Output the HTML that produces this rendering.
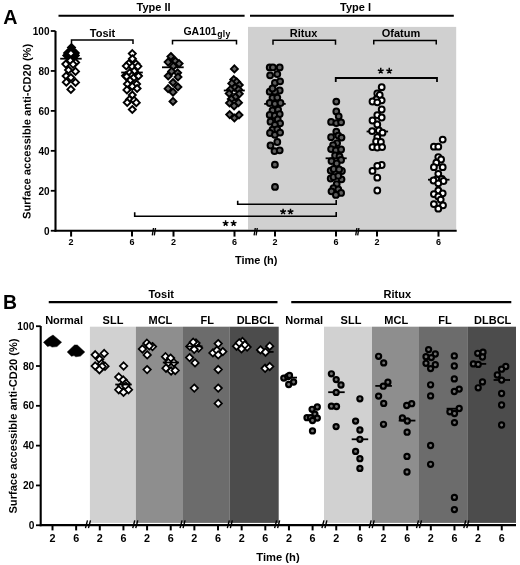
<!DOCTYPE html>
<html><head><meta charset="utf-8"><style>
html,body{margin:0;padding:0;background:#fff;}
svg{display:block;will-change:transform;font-family:"Liberation Sans", sans-serif;}
</style></head><body>
<svg width="520" height="565" viewBox="0 0 520 565">
<rect width="520" height="565" fill="#fff"/>
<rect x="248" y="26.9" width="208.2" height="202.7" fill="#d0d0d0"/>
<text x="10.4" y="23.8" font-size="19.7" text-anchor="middle" font-weight="bold" >A</text>
<line x1="58.5" y1="15.8" x2="244.6" y2="15.8" stroke="#000" stroke-width="2"/>
<line x1="250" y1="15.8" x2="453.8" y2="15.8" stroke="#000" stroke-width="2"/>
<text x="153.5" y="11.2" font-size="11" text-anchor="middle" font-weight="bold" >Type II</text>
<text x="355.5" y="11.1" font-size="11" text-anchor="middle" font-weight="bold" >Type I</text>
<path d="M71.5 44V40H133V44" fill="none" stroke="#000" stroke-width="1.5"/>
<path d="M172.5 44.4V40.4H236.5V44.4" fill="none" stroke="#000" stroke-width="1.5"/>
<path d="M273 44.800000000000004V40.2H335.5V44.800000000000004" fill="none" stroke="#000" stroke-width="1.5"/>
<path d="M373.75 44.5V40.5H436.25V44.5" fill="none" stroke="#000" stroke-width="1.5"/>
<text x="102.5" y="36.5" font-size="11" text-anchor="middle" font-weight="bold" >Tosit</text>
<text x="183.4" y="34.6" font-size="10.5" text-anchor="start" font-weight="bold" >GA101<tspan font-size="8.6" dx="0.5" dy="2.6" letter-spacing="0.3">gly</tspan></text>
<text x="303.5" y="37" font-size="11" text-anchor="middle" font-weight="bold" >Ritux</text>
<text x="401" y="37" font-size="11" text-anchor="middle" font-weight="bold" >Ofatum</text>
<line x1="55.5" y1="31" x2="55.5" y2="231.6" stroke="#000" stroke-width="2.1"/>
<line x1="54.5" y1="230.7" x2="456.7" y2="230.7" stroke="#000" stroke-width="2.1"/>
<line x1="50.8" y1="230.75" x2="55.5" y2="230.75" stroke="#000" stroke-width="1.8"/>
<text x="49.5" y="234.95" font-size="10" text-anchor="end" font-weight="bold" >0</text>
<line x1="50.8" y1="190.8" x2="55.5" y2="190.8" stroke="#000" stroke-width="1.8"/>
<text x="49.5" y="195.0" font-size="10" text-anchor="end" font-weight="bold" >20</text>
<line x1="50.8" y1="150.85" x2="55.5" y2="150.85" stroke="#000" stroke-width="1.8"/>
<text x="49.5" y="155.04999999999998" font-size="10" text-anchor="end" font-weight="bold" >40</text>
<line x1="50.8" y1="110.89999999999999" x2="55.5" y2="110.89999999999999" stroke="#000" stroke-width="1.8"/>
<text x="49.5" y="115.1" font-size="10" text-anchor="end" font-weight="bold" >60</text>
<line x1="50.8" y1="70.94999999999999" x2="55.5" y2="70.94999999999999" stroke="#000" stroke-width="1.8"/>
<text x="49.5" y="75.14999999999999" font-size="10" text-anchor="end" font-weight="bold" >80</text>
<line x1="50.8" y1="31.0" x2="55.5" y2="31.0" stroke="#000" stroke-width="1.8"/>
<text x="49.5" y="35.2" font-size="10" text-anchor="end" font-weight="bold" >100</text>
<line x1="71.1" y1="230.7" x2="71.1" y2="236.6" stroke="#000" stroke-width="2"/>
<text x="71.1" y="244.7" font-size="9" text-anchor="middle" font-weight="bold" >2</text>
<line x1="132" y1="230.7" x2="132" y2="236.6" stroke="#000" stroke-width="2"/>
<text x="132" y="244.7" font-size="9" text-anchor="middle" font-weight="bold" >6</text>
<line x1="173.5" y1="230.7" x2="173.5" y2="236.6" stroke="#000" stroke-width="2"/>
<text x="173.5" y="244.7" font-size="9" text-anchor="middle" font-weight="bold" >2</text>
<line x1="234.5" y1="230.7" x2="234.5" y2="236.6" stroke="#000" stroke-width="2"/>
<text x="234.5" y="244.7" font-size="9" text-anchor="middle" font-weight="bold" >6</text>
<line x1="275" y1="230.7" x2="275" y2="236.6" stroke="#000" stroke-width="2"/>
<text x="275" y="244.7" font-size="9" text-anchor="middle" font-weight="bold" >2</text>
<line x1="336" y1="230.7" x2="336" y2="236.6" stroke="#000" stroke-width="2"/>
<text x="336" y="244.7" font-size="9" text-anchor="middle" font-weight="bold" >6</text>
<line x1="377" y1="230.7" x2="377" y2="236.6" stroke="#000" stroke-width="2"/>
<text x="377" y="244.7" font-size="9" text-anchor="middle" font-weight="bold" >2</text>
<line x1="438.5" y1="230.7" x2="438.5" y2="236.6" stroke="#000" stroke-width="2"/>
<text x="438.5" y="244.7" font-size="9" text-anchor="middle" font-weight="bold" >6</text>
<line x1="153.50" y1="228.00" x2="152.30" y2="235.40" stroke="#000" stroke-width="1.35"/>
<line x1="155.50" y1="228.00" x2="154.30" y2="235.40" stroke="#000" stroke-width="1.35"/>
<line x1="255.30" y1="228.00" x2="254.10" y2="235.40" stroke="#000" stroke-width="1.35"/>
<line x1="257.30" y1="228.00" x2="256.10" y2="235.40" stroke="#000" stroke-width="1.35"/>
<line x1="356.90" y1="228.00" x2="355.70" y2="235.40" stroke="#000" stroke-width="1.35"/>
<line x1="358.90" y1="228.00" x2="357.70" y2="235.40" stroke="#000" stroke-width="1.35"/>
<text x="256.2" y="264.4" font-size="11" text-anchor="middle" font-weight="bold" >Time (h)</text>
<text transform="translate(30.6,131.4) rotate(-89.9)" font-size="11.1" text-anchor="middle" font-weight="bold">Surface accessible anti-CD20 (%)</text>
<path d="M335.75 82.0V78.0H437V82.0" fill="none" stroke="#000" stroke-width="1.8"/>
<path d="M134.7 212.3V216.2H336.2V212.1" fill="none" stroke="#000" stroke-width="1.6"/>
<path d="M237.7 200.8V204.3H336.2V200" fill="none" stroke="#000" stroke-width="1.6"/>
<path d="M380.75 70.90L380.75 67.85M380.75 70.90L383.65 69.96M380.75 70.90L382.54 73.37M380.75 70.90L378.96 73.37M380.75 70.90L377.85 69.96" stroke="#000" stroke-width="1.45" stroke-linecap="butt"/>
<path d="M389.25 70.90L389.25 67.85M389.25 70.90L392.15 69.96M389.25 70.90L391.04 73.37M389.25 70.90L387.46 73.37M389.25 70.90L386.35 69.96" stroke="#000" stroke-width="1.45" stroke-linecap="butt"/>
<path d="M225.60 223.30L225.60 220.25M225.60 223.30L228.50 222.36M225.60 223.30L227.39 225.77M225.60 223.30L223.81 225.77M225.60 223.30L222.70 222.36" stroke="#000" stroke-width="1.45" stroke-linecap="butt"/>
<path d="M233.60 223.30L233.60 220.25M233.60 223.30L236.50 222.36M233.60 223.30L235.39 225.77M233.60 223.30L231.81 225.77M233.60 223.30L230.70 222.36" stroke="#000" stroke-width="1.45" stroke-linecap="butt"/>
<path d="M283.10 211.70L283.10 208.65M283.10 211.70L286.00 210.76M283.10 211.70L284.89 214.17M283.10 211.70L281.31 214.17M283.10 211.70L280.20 210.76" stroke="#000" stroke-width="1.45" stroke-linecap="butt"/>
<path d="M290.50 211.70L290.50 208.65M290.50 211.70L293.40 210.76M290.50 211.70L292.29 214.17M290.50 211.70L288.71 214.17M290.50 211.70L287.60 210.76" stroke="#000" stroke-width="1.45" stroke-linecap="butt"/>
<rect x="89.9" y="326.7" width="46.0" height="196.2" fill="#d1d1d1"/>
<rect x="135.9" y="326.7" width="47.099999999999994" height="196.2" fill="#8e8e8e"/>
<rect x="183" y="326.7" width="46.400000000000006" height="196.2" fill="#6c6c6c"/>
<rect x="229.4" y="326.7" width="49.29999999999998" height="196.2" fill="#4c4c4c"/>
<rect x="324.0" y="326.7" width="48.0" height="196.2" fill="#d1d1d1"/>
<rect x="372" y="326.7" width="47.0" height="196.2" fill="#8e8e8e"/>
<rect x="419.0" y="326.7" width="48.89999999999998" height="196.2" fill="#6c6c6c"/>
<rect x="467.9" y="326.7" width="48.10000000000002" height="196.2" fill="#4c4c4c"/>
<text x="10.0" y="308.8" font-size="19.4" text-anchor="middle" font-weight="bold" >B</text>
<line x1="48.75" y1="302.2" x2="277.5" y2="302.2" stroke="#000" stroke-width="2.2"/>
<line x1="291.25" y1="302.2" x2="511.3" y2="302.2" stroke="#000" stroke-width="2.2"/>
<text x="161.2" y="298.2" font-size="11" text-anchor="middle" font-weight="bold" >Tosit</text>
<text x="397.3" y="298.2" font-size="11" text-anchor="middle" font-weight="bold" >Ritux</text>
<text x="64.1" y="323.6" font-size="11" text-anchor="middle" font-weight="bold" >Normal</text>
<text x="113" y="323.6" font-size="11" text-anchor="middle" font-weight="bold" >SLL</text>
<text x="160.4" y="323.6" font-size="11" text-anchor="middle" font-weight="bold" >MCL</text>
<text x="207.3" y="323.6" font-size="11" text-anchor="middle" font-weight="bold" >FL</text>
<text x="255.3" y="323.6" font-size="11" text-anchor="middle" font-weight="bold" >DLBCL</text>
<text x="304.2" y="323.6" font-size="11" text-anchor="middle" font-weight="bold" >Normal</text>
<text x="351" y="323.6" font-size="11" text-anchor="middle" font-weight="bold" >SLL</text>
<text x="396.2" y="323.6" font-size="11" text-anchor="middle" font-weight="bold" >MCL</text>
<text x="444.9" y="323.6" font-size="11" text-anchor="middle" font-weight="bold" >FL</text>
<text x="492.7" y="323.6" font-size="11" text-anchor="middle" font-weight="bold" >DLBCL</text>
<line x1="40.7" y1="326" x2="40.7" y2="526.2" stroke="#000" stroke-width="2.1"/>
<line x1="39.7" y1="525.1" x2="516" y2="525.1" stroke="#000" stroke-width="2.1"/>
<line x1="36" y1="525.25" x2="40.7" y2="525.25" stroke="#000" stroke-width="1.8"/>
<text x="34.3" y="528.85" font-size="10.2" text-anchor="end" font-weight="bold" >0</text>
<line x1="36" y1="485.44" x2="40.7" y2="485.44" stroke="#000" stroke-width="1.8"/>
<text x="34.3" y="489.04" font-size="10.2" text-anchor="end" font-weight="bold" >20</text>
<line x1="36" y1="445.63" x2="40.7" y2="445.63" stroke="#000" stroke-width="1.8"/>
<text x="34.3" y="449.23" font-size="10.2" text-anchor="end" font-weight="bold" >40</text>
<line x1="36" y1="405.82" x2="40.7" y2="405.82" stroke="#000" stroke-width="1.8"/>
<text x="34.3" y="409.42" font-size="10.2" text-anchor="end" font-weight="bold" >60</text>
<line x1="36" y1="366.01" x2="40.7" y2="366.01" stroke="#000" stroke-width="1.8"/>
<text x="34.3" y="369.61" font-size="10.2" text-anchor="end" font-weight="bold" >80</text>
<line x1="36" y1="326.20000000000005" x2="40.7" y2="326.20000000000005" stroke="#000" stroke-width="1.8"/>
<text x="34.3" y="329.80000000000007" font-size="10.2" text-anchor="end" font-weight="bold" >100</text>
<line x1="52.5" y1="525.1" x2="52.5" y2="530.4" stroke="#000" stroke-width="2"/>
<text x="52.5" y="542.1" font-size="10.8" text-anchor="middle" font-weight="bold" >2</text>
<line x1="76.145" y1="525.1" x2="76.145" y2="530.4" stroke="#000" stroke-width="2"/>
<text x="76.145" y="542.1" font-size="10.8" text-anchor="middle" font-weight="bold" >6</text>
<line x1="99.78999999999999" y1="525.1" x2="99.78999999999999" y2="530.4" stroke="#000" stroke-width="2"/>
<text x="99.78999999999999" y="542.1" font-size="10.8" text-anchor="middle" font-weight="bold" >2</text>
<line x1="123.435" y1="525.1" x2="123.435" y2="530.4" stroke="#000" stroke-width="2"/>
<text x="123.435" y="542.1" font-size="10.8" text-anchor="middle" font-weight="bold" >6</text>
<line x1="147.07999999999998" y1="525.1" x2="147.07999999999998" y2="530.4" stroke="#000" stroke-width="2"/>
<text x="147.07999999999998" y="542.1" font-size="10.8" text-anchor="middle" font-weight="bold" >2</text>
<line x1="170.725" y1="525.1" x2="170.725" y2="530.4" stroke="#000" stroke-width="2"/>
<text x="170.725" y="542.1" font-size="10.8" text-anchor="middle" font-weight="bold" >6</text>
<line x1="194.37" y1="525.1" x2="194.37" y2="530.4" stroke="#000" stroke-width="2"/>
<text x="194.37" y="542.1" font-size="10.8" text-anchor="middle" font-weight="bold" >2</text>
<line x1="218.015" y1="525.1" x2="218.015" y2="530.4" stroke="#000" stroke-width="2"/>
<text x="218.015" y="542.1" font-size="10.8" text-anchor="middle" font-weight="bold" >6</text>
<line x1="241.66" y1="525.1" x2="241.66" y2="530.4" stroke="#000" stroke-width="2"/>
<text x="241.66" y="542.1" font-size="10.8" text-anchor="middle" font-weight="bold" >2</text>
<line x1="265.305" y1="525.1" x2="265.305" y2="530.4" stroke="#000" stroke-width="2"/>
<text x="265.305" y="542.1" font-size="10.8" text-anchor="middle" font-weight="bold" >6</text>
<line x1="288.95" y1="525.1" x2="288.95" y2="530.4" stroke="#000" stroke-width="2"/>
<text x="288.95" y="542.1" font-size="10.8" text-anchor="middle" font-weight="bold" >2</text>
<line x1="312.59499999999997" y1="525.1" x2="312.59499999999997" y2="530.4" stroke="#000" stroke-width="2"/>
<text x="312.59499999999997" y="542.1" font-size="10.8" text-anchor="middle" font-weight="bold" >6</text>
<line x1="336.24" y1="525.1" x2="336.24" y2="530.4" stroke="#000" stroke-width="2"/>
<text x="336.24" y="542.1" font-size="10.8" text-anchor="middle" font-weight="bold" >2</text>
<line x1="359.885" y1="525.1" x2="359.885" y2="530.4" stroke="#000" stroke-width="2"/>
<text x="359.885" y="542.1" font-size="10.8" text-anchor="middle" font-weight="bold" >6</text>
<line x1="383.53" y1="525.1" x2="383.53" y2="530.4" stroke="#000" stroke-width="2"/>
<text x="383.53" y="542.1" font-size="10.8" text-anchor="middle" font-weight="bold" >2</text>
<line x1="407.175" y1="525.1" x2="407.175" y2="530.4" stroke="#000" stroke-width="2"/>
<text x="407.175" y="542.1" font-size="10.8" text-anchor="middle" font-weight="bold" >6</text>
<line x1="430.82" y1="525.1" x2="430.82" y2="530.4" stroke="#000" stroke-width="2"/>
<text x="430.82" y="542.1" font-size="10.8" text-anchor="middle" font-weight="bold" >2</text>
<line x1="454.465" y1="525.1" x2="454.465" y2="530.4" stroke="#000" stroke-width="2"/>
<text x="454.465" y="542.1" font-size="10.8" text-anchor="middle" font-weight="bold" >6</text>
<line x1="478.11" y1="525.1" x2="478.11" y2="530.4" stroke="#000" stroke-width="2"/>
<text x="478.11" y="542.1" font-size="10.8" text-anchor="middle" font-weight="bold" >2</text>
<line x1="501.755" y1="525.1" x2="501.755" y2="530.4" stroke="#000" stroke-width="2"/>
<text x="501.755" y="542.1" font-size="10.8" text-anchor="middle" font-weight="bold" >6</text>
<line x1="87.47" y1="520.30" x2="85.47" y2="528.10" stroke="#000" stroke-width="1.4"/>
<line x1="90.47" y1="520.30" x2="88.47" y2="528.10" stroke="#000" stroke-width="1.4"/>
<line x1="134.76" y1="520.30" x2="132.76" y2="528.10" stroke="#000" stroke-width="1.4"/>
<line x1="137.76" y1="520.30" x2="135.76" y2="528.10" stroke="#000" stroke-width="1.4"/>
<line x1="182.05" y1="520.30" x2="180.05" y2="528.10" stroke="#000" stroke-width="1.4"/>
<line x1="185.05" y1="520.30" x2="183.05" y2="528.10" stroke="#000" stroke-width="1.4"/>
<line x1="229.34" y1="520.30" x2="227.34" y2="528.10" stroke="#000" stroke-width="1.4"/>
<line x1="232.34" y1="520.30" x2="230.34" y2="528.10" stroke="#000" stroke-width="1.4"/>
<line x1="276.63" y1="520.30" x2="274.63" y2="528.10" stroke="#000" stroke-width="1.4"/>
<line x1="279.63" y1="520.30" x2="277.63" y2="528.10" stroke="#000" stroke-width="1.4"/>
<line x1="323.92" y1="520.30" x2="321.92" y2="528.10" stroke="#000" stroke-width="1.4"/>
<line x1="326.92" y1="520.30" x2="324.92" y2="528.10" stroke="#000" stroke-width="1.4"/>
<line x1="371.21" y1="520.30" x2="369.21" y2="528.10" stroke="#000" stroke-width="1.4"/>
<line x1="374.21" y1="520.30" x2="372.21" y2="528.10" stroke="#000" stroke-width="1.4"/>
<line x1="418.50" y1="520.30" x2="416.50" y2="528.10" stroke="#000" stroke-width="1.4"/>
<line x1="421.50" y1="520.30" x2="419.50" y2="528.10" stroke="#000" stroke-width="1.4"/>
<line x1="465.79" y1="520.30" x2="463.79" y2="528.10" stroke="#000" stroke-width="1.4"/>
<line x1="468.79" y1="520.30" x2="466.79" y2="528.10" stroke="#000" stroke-width="1.4"/>
<text x="278" y="561" font-size="11.2" text-anchor="middle" font-weight="bold" >Time (h)</text>
<text transform="translate(16.8,426) rotate(-89.9)" font-size="11.1" text-anchor="middle" font-weight="bold">Surface accessible anti-CD20 (%)</text>
<line x1="60.2" y1="58.7" x2="81.7" y2="58.7" stroke="#000" stroke-width="1.8"/>
<line x1="121.2" y1="72.5" x2="142.8" y2="72.5" stroke="#000" stroke-width="1.8"/>
<line x1="162" y1="67.3" x2="183.7" y2="67.3" stroke="#000" stroke-width="1.8"/>
<line x1="223.8" y1="90.5" x2="244.8" y2="90.5" stroke="#000" stroke-width="1.8"/>
<line x1="264.2" y1="103.9" x2="285.7" y2="103.9" stroke="#000" stroke-width="1.8"/>
<line x1="325.6" y1="158.3" x2="346.7" y2="158.3" stroke="#000" stroke-width="1.8"/>
<line x1="366.6" y1="131.5" x2="388.1" y2="131.5" stroke="#000" stroke-width="1.8"/>
<line x1="428" y1="179.7" x2="449.5" y2="179.7" stroke="#000" stroke-width="1.8"/>
<path d="M71.50 44.10L75.00 47.60L71.50 51.10L68.00 47.60Z" fill="#000" stroke="#000" stroke-width="1.9"/>
<path d="M67.60 49.50L71.10 53.00L67.60 56.50L64.10 53.00Z" fill="#000" stroke="#000" stroke-width="1.9"/>
<path d="M75.30 49.50L78.80 53.00L75.30 56.50L71.80 53.00Z" fill="#000" stroke="#000" stroke-width="1.9"/>
<path d="M66.80 52.00L70.30 55.50L66.80 59.00L63.30 55.50Z" fill="#000" stroke="#000" stroke-width="1.9"/>
<path d="M75.30 52.00L78.80 55.50L75.30 59.00L71.80 55.50Z" fill="#000" stroke="#000" stroke-width="1.9"/>
<path d="M69.20 53.30L72.70 56.80L69.20 60.30L65.70 56.80Z" fill="#000" stroke="#000" stroke-width="1.9"/>
<path d="M73.20 53.30L76.70 56.80L73.20 60.30L69.70 56.80Z" fill="#000" stroke="#000" stroke-width="1.9"/>
<path d="M71.50 47.00L75.00 50.50L71.50 54.00L68.00 50.50Z" fill="#000" stroke="#000" stroke-width="1.9"/>
<path d="M71.80 54.70L75.30 58.20L71.80 61.70L68.30 58.20Z" fill="#000" stroke="#000" stroke-width="1.9"/>
<path d="M70.90 49.80L74.40 53.30L70.90 56.80L67.40 53.30Z" fill="#ffffff" stroke="#000" stroke-width="1.9"/>
<path d="M70.40 57.10L73.90 60.60L70.40 64.10L66.90 60.60Z" fill="#ffffff" stroke="#000" stroke-width="1.9"/>
<path d="M75.60 59.00L79.10 62.50L75.60 66.00L72.10 62.50Z" fill="#ffffff" stroke="#000" stroke-width="1.9"/>
<path d="M65.80 60.60L69.30 64.10L65.80 67.60L62.30 64.10Z" fill="#ffffff" stroke="#000" stroke-width="1.9"/>
<path d="M73.10 60.80L76.60 64.30L73.10 67.80L69.60 64.30Z" fill="#ffffff" stroke="#000" stroke-width="1.9"/>
<path d="M68.50 66.50L72.00 70.00L68.50 73.50L65.00 70.00Z" fill="#ffffff" stroke="#000" stroke-width="1.9"/>
<path d="M75.50 67.90L79.00 71.40L75.50 74.90L72.00 71.40Z" fill="#ffffff" stroke="#000" stroke-width="1.9"/>
<path d="M66.10 72.50L69.60 76.00L66.10 79.50L62.60 76.00Z" fill="#ffffff" stroke="#000" stroke-width="1.9"/>
<path d="M70.90 74.10L74.40 77.60L70.90 81.10L67.40 77.60Z" fill="#ffffff" stroke="#000" stroke-width="1.9"/>
<path d="M66.30 78.70L69.80 82.20L66.30 85.70L62.80 82.20Z" fill="#ffffff" stroke="#000" stroke-width="1.9"/>
<path d="M75.50 78.90L79.00 82.40L75.50 85.90L72.00 82.40Z" fill="#ffffff" stroke="#000" stroke-width="1.9"/>
<path d="M70.90 85.90L74.40 89.40L70.90 92.90L67.40 89.40Z" fill="#ffffff" stroke="#000" stroke-width="1.9"/>
<path d="M132.30 50.10L135.80 53.60L132.30 57.10L128.80 53.60Z" fill="#ffffff" stroke="#000" stroke-width="1.9"/>
<path d="M132.40 55.30L135.90 58.80L132.40 62.30L128.90 58.80Z" fill="#ffffff" stroke="#000" stroke-width="1.9"/>
<path d="M128.80 60.10L132.30 63.60L128.80 67.10L125.30 63.60Z" fill="#ffffff" stroke="#000" stroke-width="1.9"/>
<path d="M136.00 60.30L139.50 63.80L136.00 67.30L132.50 63.80Z" fill="#ffffff" stroke="#000" stroke-width="1.9"/>
<path d="M126.30 62.50L129.80 66.00L126.30 69.50L122.80 66.00Z" fill="#ffffff" stroke="#000" stroke-width="1.9"/>
<path d="M132.30 63.10L135.80 66.60L132.30 70.10L128.80 66.60Z" fill="#ffffff" stroke="#000" stroke-width="1.9"/>
<path d="M137.90 62.80L141.40 66.30L137.90 69.80L134.40 66.30Z" fill="#ffffff" stroke="#000" stroke-width="1.9"/>
<path d="M134.20 67.70L137.70 71.20L134.20 74.70L130.70 71.20Z" fill="#ffffff" stroke="#000" stroke-width="1.9"/>
<path d="M129.60 69.30L133.10 72.80L129.60 76.30L126.10 72.80Z" fill="#ffffff" stroke="#000" stroke-width="1.9"/>
<path d="M125.50 72.30L129.00 75.80L125.50 79.30L122.00 75.80Z" fill="#ffffff" stroke="#000" stroke-width="1.9"/>
<path d="M132.00 72.00L135.50 75.50L132.00 79.00L128.50 75.50Z" fill="#ffffff" stroke="#000" stroke-width="1.9"/>
<path d="M137.90 72.00L141.40 75.50L137.90 79.00L134.40 75.50Z" fill="#ffffff" stroke="#000" stroke-width="1.9"/>
<path d="M126.60 73.00L130.10 76.50L126.60 80.00L123.10 76.50Z" fill="#ffffff" stroke="#000" stroke-width="1.9"/>
<path d="M133.60 74.30L137.10 77.80L133.60 81.30L130.10 77.80Z" fill="#ffffff" stroke="#000" stroke-width="1.9"/>
<path d="M138.50 72.50L142.00 76.00L138.50 79.50L135.00 76.00Z" fill="#ffffff" stroke="#000" stroke-width="1.9"/>
<path d="M130.00 77.00L133.50 80.50L130.00 84.00L126.50 80.50Z" fill="#ffffff" stroke="#000" stroke-width="1.9"/>
<path d="M127.40 80.50L130.90 84.00L127.40 87.50L123.90 84.00Z" fill="#ffffff" stroke="#000" stroke-width="1.9"/>
<path d="M136.60 80.50L140.10 84.00L136.60 87.50L133.10 84.00Z" fill="#ffffff" stroke="#000" stroke-width="1.9"/>
<path d="M132.30 82.90L135.80 86.40L132.30 89.90L128.80 86.40Z" fill="#ffffff" stroke="#000" stroke-width="1.9"/>
<path d="M126.90 86.40L130.40 89.90L126.90 93.40L123.40 89.90Z" fill="#ffffff" stroke="#000" stroke-width="1.9"/>
<path d="M137.10 85.00L140.60 88.50L137.10 92.00L133.60 88.50Z" fill="#ffffff" stroke="#000" stroke-width="1.9"/>
<path d="M132.30 91.50L135.80 95.00L132.30 98.50L128.80 95.00Z" fill="#ffffff" stroke="#000" stroke-width="1.9"/>
<path d="M129.50 96.00L133.00 99.50L129.50 103.00L126.00 99.50Z" fill="#ffffff" stroke="#000" stroke-width="1.9"/>
<path d="M134.20 96.90L137.70 100.40L134.20 103.90L130.70 100.40Z" fill="#ffffff" stroke="#000" stroke-width="1.9"/>
<path d="M127.20 99.00L130.70 102.50L127.20 106.00L123.70 102.50Z" fill="#ffffff" stroke="#000" stroke-width="1.9"/>
<path d="M136.30 99.20L139.80 102.70L136.30 106.20L132.80 102.70Z" fill="#ffffff" stroke="#000" stroke-width="1.9"/>
<path d="M132.30 106.00L135.80 109.50L132.30 113.00L128.80 109.50Z" fill="#ffffff" stroke="#000" stroke-width="1.9"/>
<path d="M170.90 53.00L174.40 56.50L170.90 60.00L167.40 56.50Z" fill="#626262" stroke="#000" stroke-width="1.9"/>
<path d="M168.10 58.60L171.60 62.10L168.10 65.60L164.60 62.10Z" fill="#626262" stroke="#000" stroke-width="1.9"/>
<path d="M175.30 57.50L178.80 61.00L175.30 64.50L171.80 61.00Z" fill="#626262" stroke="#000" stroke-width="1.9"/>
<path d="M179.10 60.10L182.60 63.60L179.10 67.10L175.60 63.60Z" fill="#626262" stroke="#000" stroke-width="1.9"/>
<path d="M173.30 62.70L176.80 66.20L173.30 69.70L169.80 66.20Z" fill="#626262" stroke="#000" stroke-width="1.9"/>
<path d="M171.60 67.90L175.10 71.40L171.60 74.90L168.10 71.40Z" fill="#626262" stroke="#000" stroke-width="1.9"/>
<path d="M177.60 69.30L181.10 72.80L177.60 76.30L174.10 72.80Z" fill="#626262" stroke="#000" stroke-width="1.9"/>
<path d="M168.20 72.50L171.70 76.00L168.20 79.50L164.70 76.00Z" fill="#626262" stroke="#000" stroke-width="1.9"/>
<path d="M178.00 73.50L181.50 77.00L178.00 80.50L174.50 77.00Z" fill="#626262" stroke="#000" stroke-width="1.9"/>
<path d="M173.00 79.00L176.50 82.50L173.00 86.00L169.50 82.50Z" fill="#626262" stroke="#000" stroke-width="1.9"/>
<path d="M177.90 83.50L181.40 87.00L177.90 90.50L174.40 87.00Z" fill="#626262" stroke="#000" stroke-width="1.9"/>
<path d="M168.10 85.20L171.60 88.70L168.10 92.20L164.60 88.70Z" fill="#626262" stroke="#000" stroke-width="1.9"/>
<path d="M173.00 88.70L176.50 92.20L173.00 95.70L169.50 92.20Z" fill="#626262" stroke="#000" stroke-width="1.9"/>
<path d="M173.00 97.90L176.50 101.40L173.00 104.90L169.50 101.40Z" fill="#626262" stroke="#000" stroke-width="1.9"/>
<path d="M234.40 65.40L237.90 68.90L234.40 72.40L230.90 68.90Z" fill="#626262" stroke="#000" stroke-width="1.9"/>
<path d="M233.80 76.10L237.30 79.60L233.80 83.10L230.30 79.60Z" fill="#626262" stroke="#000" stroke-width="1.9"/>
<path d="M236.70 78.40L240.20 81.90L236.70 85.40L233.20 81.90Z" fill="#626262" stroke="#000" stroke-width="1.9"/>
<path d="M231.80 79.90L235.30 83.40L231.80 86.90L228.30 83.40Z" fill="#626262" stroke="#000" stroke-width="1.9"/>
<path d="M239.30 81.50L242.80 85.00L239.30 88.50L235.80 85.00Z" fill="#626262" stroke="#000" stroke-width="1.9"/>
<path d="M235.00 84.00L238.50 87.50L235.00 91.00L231.50 87.50Z" fill="#626262" stroke="#000" stroke-width="1.9"/>
<path d="M230.50 86.00L234.00 89.50L230.50 93.00L227.00 89.50Z" fill="#626262" stroke="#000" stroke-width="1.9"/>
<path d="M238.50 86.00L242.00 89.50L238.50 93.00L235.00 89.50Z" fill="#626262" stroke="#000" stroke-width="1.9"/>
<path d="M229.20 90.00L232.70 93.50L229.20 97.00L225.70 93.50Z" fill="#626262" stroke="#000" stroke-width="1.9"/>
<path d="M239.30 90.30L242.80 93.80L239.30 97.30L235.80 93.80Z" fill="#626262" stroke="#000" stroke-width="1.9"/>
<path d="M235.30 93.50L238.80 97.00L235.30 100.50L231.80 97.00Z" fill="#626262" stroke="#000" stroke-width="1.9"/>
<path d="M231.30 95.50L234.80 99.00L231.30 102.50L227.80 99.00Z" fill="#626262" stroke="#000" stroke-width="1.9"/>
<path d="M229.50 99.50L233.00 103.00L229.50 106.50L226.00 103.00Z" fill="#626262" stroke="#000" stroke-width="1.9"/>
<path d="M238.50 99.20L242.00 102.70L238.50 106.20L235.00 102.70Z" fill="#626262" stroke="#000" stroke-width="1.9"/>
<path d="M234.10 102.40L237.60 105.90L234.10 109.40L230.60 105.90Z" fill="#626262" stroke="#000" stroke-width="1.9"/>
<path d="M229.70 111.10L233.20 114.60L229.70 118.10L226.20 114.60Z" fill="#626262" stroke="#000" stroke-width="1.9"/>
<path d="M239.00 111.50L242.50 115.00L239.00 118.50L235.50 115.00Z" fill="#626262" stroke="#000" stroke-width="1.9"/>
<path d="M234.40 114.50L237.90 118.00L234.40 121.50L230.90 118.00Z" fill="#626262" stroke="#000" stroke-width="1.9"/>
<circle cx="269.70" cy="67.40" r="2.9" fill="#5e5e5e" stroke="#000" stroke-width="2.0"/>
<circle cx="272.90" cy="67.40" r="2.9" fill="#5e5e5e" stroke="#000" stroke-width="2.0"/>
<circle cx="279.70" cy="67.40" r="2.9" fill="#5e5e5e" stroke="#000" stroke-width="2.0"/>
<circle cx="270.10" cy="75.30" r="2.9" fill="#5e5e5e" stroke="#000" stroke-width="2.0"/>
<circle cx="277.30" cy="74.10" r="2.9" fill="#5e5e5e" stroke="#000" stroke-width="2.0"/>
<circle cx="274.90" cy="82.90" r="2.9" fill="#5e5e5e" stroke="#000" stroke-width="2.0"/>
<circle cx="280.10" cy="81.30" r="2.9" fill="#5e5e5e" stroke="#000" stroke-width="2.0"/>
<circle cx="279.70" cy="90.50" r="2.9" fill="#5e5e5e" stroke="#000" stroke-width="2.0"/>
<circle cx="269.70" cy="91.70" r="2.9" fill="#5e5e5e" stroke="#000" stroke-width="2.0"/>
<circle cx="274.90" cy="91.70" r="2.9" fill="#5e5e5e" stroke="#000" stroke-width="2.0"/>
<circle cx="272.50" cy="88.50" r="2.9" fill="#5e5e5e" stroke="#000" stroke-width="2.0"/>
<circle cx="272.50" cy="97.80" r="2.9" fill="#5e5e5e" stroke="#000" stroke-width="2.0"/>
<circle cx="277.30" cy="97.60" r="2.9" fill="#5e5e5e" stroke="#000" stroke-width="2.0"/>
<circle cx="269.70" cy="103.00" r="2.9" fill="#5e5e5e" stroke="#000" stroke-width="2.0"/>
<circle cx="274.90" cy="103.80" r="2.9" fill="#5e5e5e" stroke="#000" stroke-width="2.0"/>
<circle cx="280.50" cy="103.00" r="2.9" fill="#5e5e5e" stroke="#000" stroke-width="2.0"/>
<circle cx="272.50" cy="110.50" r="2.9" fill="#5e5e5e" stroke="#000" stroke-width="2.0"/>
<circle cx="278.10" cy="109.70" r="2.9" fill="#5e5e5e" stroke="#000" stroke-width="2.0"/>
<circle cx="269.70" cy="114.90" r="2.9" fill="#5e5e5e" stroke="#000" stroke-width="2.0"/>
<circle cx="274.90" cy="115.70" r="2.9" fill="#5e5e5e" stroke="#000" stroke-width="2.0"/>
<circle cx="279.70" cy="114.10" r="2.9" fill="#5e5e5e" stroke="#000" stroke-width="2.0"/>
<circle cx="270.50" cy="121.70" r="2.9" fill="#5e5e5e" stroke="#000" stroke-width="2.0"/>
<circle cx="277.70" cy="119.30" r="2.9" fill="#5e5e5e" stroke="#000" stroke-width="2.0"/>
<circle cx="280.10" cy="123.30" r="2.9" fill="#5e5e5e" stroke="#000" stroke-width="2.0"/>
<circle cx="274.90" cy="124.90" r="2.9" fill="#5e5e5e" stroke="#000" stroke-width="2.0"/>
<circle cx="272.50" cy="129.70" r="2.9" fill="#5e5e5e" stroke="#000" stroke-width="2.0"/>
<circle cx="277.30" cy="129.30" r="2.9" fill="#5e5e5e" stroke="#000" stroke-width="2.0"/>
<circle cx="270.00" cy="133.00" r="2.9" fill="#5e5e5e" stroke="#000" stroke-width="2.0"/>
<circle cx="274.90" cy="134.80" r="2.9" fill="#5e5e5e" stroke="#000" stroke-width="2.0"/>
<circle cx="280.10" cy="132.60" r="2.9" fill="#5e5e5e" stroke="#000" stroke-width="2.0"/>
<circle cx="277.30" cy="142.00" r="2.9" fill="#5e5e5e" stroke="#000" stroke-width="2.0"/>
<circle cx="270.50" cy="145.50" r="2.9" fill="#5e5e5e" stroke="#000" stroke-width="2.0"/>
<circle cx="274.50" cy="151.10" r="2.9" fill="#5e5e5e" stroke="#000" stroke-width="2.0"/>
<circle cx="279.70" cy="150.30" r="2.9" fill="#5e5e5e" stroke="#000" stroke-width="2.0"/>
<circle cx="274.90" cy="164.70" r="2.9" fill="#5e5e5e" stroke="#000" stroke-width="2.0"/>
<circle cx="275.00" cy="186.90" r="2.9" fill="#5e5e5e" stroke="#000" stroke-width="2.0"/>
<circle cx="336.30" cy="101.60" r="2.9" fill="#5e5e5e" stroke="#000" stroke-width="2.0"/>
<circle cx="336.30" cy="111.40" r="2.9" fill="#5e5e5e" stroke="#000" stroke-width="2.0"/>
<circle cx="338.70" cy="116.30" r="2.9" fill="#5e5e5e" stroke="#000" stroke-width="2.0"/>
<circle cx="331.10" cy="121.90" r="2.9" fill="#5e5e5e" stroke="#000" stroke-width="2.0"/>
<circle cx="336.30" cy="123.10" r="2.9" fill="#5e5e5e" stroke="#000" stroke-width="2.0"/>
<circle cx="341.10" cy="122.30" r="2.9" fill="#5e5e5e" stroke="#000" stroke-width="2.0"/>
<circle cx="336.30" cy="131.70" r="2.9" fill="#5e5e5e" stroke="#000" stroke-width="2.0"/>
<circle cx="331.10" cy="137.20" r="2.9" fill="#5e5e5e" stroke="#000" stroke-width="2.0"/>
<circle cx="338.30" cy="135.60" r="2.9" fill="#5e5e5e" stroke="#000" stroke-width="2.0"/>
<circle cx="341.50" cy="137.60" r="2.9" fill="#5e5e5e" stroke="#000" stroke-width="2.0"/>
<circle cx="337.10" cy="143.10" r="2.9" fill="#5e5e5e" stroke="#000" stroke-width="2.0"/>
<circle cx="333.10" cy="145.10" r="2.9" fill="#5e5e5e" stroke="#000" stroke-width="2.0"/>
<circle cx="331.10" cy="149.10" r="2.9" fill="#5e5e5e" stroke="#000" stroke-width="2.0"/>
<circle cx="335.90" cy="150.30" r="2.9" fill="#5e5e5e" stroke="#000" stroke-width="2.0"/>
<circle cx="341.10" cy="149.50" r="2.9" fill="#5e5e5e" stroke="#000" stroke-width="2.0"/>
<circle cx="335.10" cy="155.50" r="2.9" fill="#5e5e5e" stroke="#000" stroke-width="2.0"/>
<circle cx="339.50" cy="156.30" r="2.9" fill="#5e5e5e" stroke="#000" stroke-width="2.0"/>
<circle cx="331.50" cy="161.10" r="2.9" fill="#5e5e5e" stroke="#000" stroke-width="2.0"/>
<circle cx="341.10" cy="159.90" r="2.9" fill="#5e5e5e" stroke="#000" stroke-width="2.0"/>
<circle cx="336.70" cy="163.50" r="2.9" fill="#5e5e5e" stroke="#000" stroke-width="2.0"/>
<circle cx="330.70" cy="170.60" r="2.9" fill="#5e5e5e" stroke="#000" stroke-width="2.0"/>
<circle cx="341.90" cy="171.00" r="2.9" fill="#5e5e5e" stroke="#000" stroke-width="2.0"/>
<circle cx="333.70" cy="169.00" r="2.9" fill="#5e5e5e" stroke="#000" stroke-width="2.0"/>
<circle cx="339.10" cy="169.40" r="2.9" fill="#5e5e5e" stroke="#000" stroke-width="2.0"/>
<circle cx="330.70" cy="178.50" r="2.9" fill="#5e5e5e" stroke="#000" stroke-width="2.0"/>
<circle cx="341.50" cy="179.30" r="2.9" fill="#5e5e5e" stroke="#000" stroke-width="2.0"/>
<circle cx="333.50" cy="177.00" r="2.9" fill="#5e5e5e" stroke="#000" stroke-width="2.0"/>
<circle cx="338.30" cy="175.80" r="2.9" fill="#5e5e5e" stroke="#000" stroke-width="2.0"/>
<circle cx="336.70" cy="184.10" r="2.9" fill="#5e5e5e" stroke="#000" stroke-width="2.0"/>
<circle cx="333.50" cy="188.10" r="2.9" fill="#5e5e5e" stroke="#000" stroke-width="2.0"/>
<circle cx="338.30" cy="189.30" r="2.9" fill="#5e5e5e" stroke="#000" stroke-width="2.0"/>
<circle cx="331.50" cy="191.30" r="2.9" fill="#5e5e5e" stroke="#000" stroke-width="2.0"/>
<circle cx="341.10" cy="192.90" r="2.9" fill="#5e5e5e" stroke="#000" stroke-width="2.0"/>
<circle cx="335.90" cy="194.90" r="2.9" fill="#5e5e5e" stroke="#000" stroke-width="2.0"/>
<circle cx="381.70" cy="87.20" r="2.9" fill="#ffffff" stroke="#000" stroke-width="2.0"/>
<circle cx="377.30" cy="93.50" r="2.9" fill="#ffffff" stroke="#000" stroke-width="2.0"/>
<circle cx="379.70" cy="95.00" r="2.9" fill="#ffffff" stroke="#000" stroke-width="2.0"/>
<circle cx="376.30" cy="99.50" r="2.9" fill="#ffffff" stroke="#000" stroke-width="2.0"/>
<circle cx="381.70" cy="100.30" r="2.9" fill="#ffffff" stroke="#000" stroke-width="2.0"/>
<circle cx="372.50" cy="101.50" r="2.9" fill="#ffffff" stroke="#000" stroke-width="2.0"/>
<circle cx="377.30" cy="102.30" r="2.9" fill="#ffffff" stroke="#000" stroke-width="2.0"/>
<circle cx="381.70" cy="109.50" r="2.9" fill="#ffffff" stroke="#000" stroke-width="2.0"/>
<circle cx="377.30" cy="115.10" r="2.9" fill="#ffffff" stroke="#000" stroke-width="2.0"/>
<circle cx="381.70" cy="117.50" r="2.9" fill="#ffffff" stroke="#000" stroke-width="2.0"/>
<circle cx="372.50" cy="120.50" r="2.9" fill="#ffffff" stroke="#000" stroke-width="2.0"/>
<circle cx="377.30" cy="124.50" r="2.9" fill="#ffffff" stroke="#000" stroke-width="2.0"/>
<circle cx="372.10" cy="131.10" r="2.9" fill="#ffffff" stroke="#000" stroke-width="2.0"/>
<circle cx="378.90" cy="130.40" r="2.9" fill="#ffffff" stroke="#000" stroke-width="2.0"/>
<circle cx="382.50" cy="132.70" r="2.9" fill="#ffffff" stroke="#000" stroke-width="2.0"/>
<circle cx="377.30" cy="137.10" r="2.9" fill="#ffffff" stroke="#000" stroke-width="2.0"/>
<circle cx="376.10" cy="141.50" r="2.9" fill="#ffffff" stroke="#000" stroke-width="2.0"/>
<circle cx="380.90" cy="141.90" r="2.9" fill="#ffffff" stroke="#000" stroke-width="2.0"/>
<circle cx="372.50" cy="147.10" r="2.9" fill="#ffffff" stroke="#000" stroke-width="2.0"/>
<circle cx="377.30" cy="147.50" r="2.9" fill="#ffffff" stroke="#000" stroke-width="2.0"/>
<circle cx="382.10" cy="147.10" r="2.9" fill="#ffffff" stroke="#000" stroke-width="2.0"/>
<circle cx="381.70" cy="165.00" r="2.9" fill="#ffffff" stroke="#000" stroke-width="2.0"/>
<circle cx="377.30" cy="165.80" r="2.9" fill="#ffffff" stroke="#000" stroke-width="2.0"/>
<circle cx="372.50" cy="170.90" r="2.9" fill="#ffffff" stroke="#000" stroke-width="2.0"/>
<circle cx="377.30" cy="177.70" r="2.9" fill="#ffffff" stroke="#000" stroke-width="2.0"/>
<circle cx="377.30" cy="190.50" r="2.9" fill="#ffffff" stroke="#000" stroke-width="2.0"/>
<circle cx="442.70" cy="139.60" r="2.9" fill="#ffffff" stroke="#000" stroke-width="2.0"/>
<circle cx="433.90" cy="146.70" r="2.9" fill="#ffffff" stroke="#000" stroke-width="2.0"/>
<circle cx="438.30" cy="146.70" r="2.9" fill="#ffffff" stroke="#000" stroke-width="2.0"/>
<circle cx="438.30" cy="157.10" r="2.9" fill="#ffffff" stroke="#000" stroke-width="2.0"/>
<circle cx="441.10" cy="159.50" r="2.9" fill="#ffffff" stroke="#000" stroke-width="2.0"/>
<circle cx="436.30" cy="162.70" r="2.9" fill="#ffffff" stroke="#000" stroke-width="2.0"/>
<circle cx="433.90" cy="167.20" r="2.9" fill="#ffffff" stroke="#000" stroke-width="2.0"/>
<circle cx="442.70" cy="167.20" r="2.9" fill="#ffffff" stroke="#000" stroke-width="2.0"/>
<circle cx="438.30" cy="173.80" r="2.9" fill="#ffffff" stroke="#000" stroke-width="2.0"/>
<circle cx="436.30" cy="179.70" r="2.9" fill="#ffffff" stroke="#000" stroke-width="2.0"/>
<circle cx="433.50" cy="180.50" r="2.9" fill="#ffffff" stroke="#000" stroke-width="2.0"/>
<circle cx="441.90" cy="179.00" r="2.9" fill="#ffffff" stroke="#000" stroke-width="2.0"/>
<circle cx="443.50" cy="181.00" r="2.9" fill="#ffffff" stroke="#000" stroke-width="2.0"/>
<circle cx="438.30" cy="183.30" r="2.9" fill="#ffffff" stroke="#000" stroke-width="2.0"/>
<circle cx="438.30" cy="190.50" r="2.9" fill="#ffffff" stroke="#000" stroke-width="2.0"/>
<circle cx="433.90" cy="194.10" r="2.9" fill="#ffffff" stroke="#000" stroke-width="2.0"/>
<circle cx="442.70" cy="193.30" r="2.9" fill="#ffffff" stroke="#000" stroke-width="2.0"/>
<circle cx="438.30" cy="196.50" r="2.9" fill="#ffffff" stroke="#000" stroke-width="2.0"/>
<circle cx="440.70" cy="199.60" r="2.9" fill="#ffffff" stroke="#000" stroke-width="2.0"/>
<circle cx="433.90" cy="204.10" r="2.9" fill="#ffffff" stroke="#000" stroke-width="2.0"/>
<circle cx="443.00" cy="205.30" r="2.9" fill="#ffffff" stroke="#000" stroke-width="2.0"/>
<circle cx="438.30" cy="208.70" r="2.9" fill="#ffffff" stroke="#000" stroke-width="2.0"/>
<path d="M53 335L49 337.6L43.5 342.2L47.5 346.6L50 345.8L52 347.1L57 346.6L61.6 342.2Z" fill="#000" stroke="#000" stroke-width="0.5" stroke-linejoin="round"/>
<path d="M74.5 345L77.3 345L84.8 352L80.5 356.1L75.8 356.8L74 355.6L71.5 356.3L67.2 352Z" fill="#000" stroke="#000" stroke-width="0.5" stroke-linejoin="round"/>
<line x1="257.5" y1="351.9" x2="273.6" y2="351.9" stroke="#000" stroke-width="1.8"/>
<path d="M95.20 351.10L98.90 354.80L95.20 358.50L91.50 354.80Z" fill="#ffffff" stroke="#000" stroke-width="1.75"/>
<path d="M104.20 349.80L107.90 353.50L104.20 357.20L100.50 353.50Z" fill="#ffffff" stroke="#000" stroke-width="1.75"/>
<path d="M99.70 355.60L103.40 359.30L99.70 363.00L96.00 359.30Z" fill="#ffffff" stroke="#000" stroke-width="1.75"/>
<path d="M101.50 359.90L105.20 363.60L101.50 367.30L97.80 363.60Z" fill="#ffffff" stroke="#000" stroke-width="1.75"/>
<path d="M105.00 362.50L108.70 366.20L105.00 369.90L101.30 366.20Z" fill="#ffffff" stroke="#000" stroke-width="1.75"/>
<path d="M102.10 362.80L105.80 366.50L102.10 370.20L98.40 366.50Z" fill="#ffffff" stroke="#000" stroke-width="1.75"/>
<path d="M95.20 362.30L98.90 366.00L95.20 369.70L91.50 366.00Z" fill="#ffffff" stroke="#000" stroke-width="1.75"/>
<path d="M99.40 366.00L103.10 369.70L99.40 373.40L95.70 369.70Z" fill="#ffffff" stroke="#000" stroke-width="1.75"/>
<path d="M123.60 362.30L127.30 366.00L123.60 369.70L119.90 366.00Z" fill="#ffffff" stroke="#000" stroke-width="1.75"/>
<path d="M118.75 373.30L122.45 377.00L118.75 380.70L115.05 377.00Z" fill="#ffffff" stroke="#000" stroke-width="1.75"/>
<path d="M123.25 376.30L126.95 380.00L123.25 383.70L119.55 380.00Z" fill="#ffffff" stroke="#000" stroke-width="1.75"/>
<path d="M126.00 379.55L129.70 383.25L126.00 386.95L122.30 383.25Z" fill="#ffffff" stroke="#000" stroke-width="1.75"/>
<path d="M121.50 382.30L125.20 386.00L121.50 389.70L117.80 386.00Z" fill="#ffffff" stroke="#000" stroke-width="1.75"/>
<path d="M125.75 382.30L129.45 386.00L125.75 389.70L122.05 386.00Z" fill="#ffffff" stroke="#000" stroke-width="1.75"/>
<path d="M118.75 386.05L122.45 389.75L118.75 393.45L115.05 389.75Z" fill="#ffffff" stroke="#000" stroke-width="1.75"/>
<path d="M128.50 386.05L132.20 389.75L128.50 393.45L124.80 389.75Z" fill="#ffffff" stroke="#000" stroke-width="1.75"/>
<path d="M123.50 388.55L127.20 392.25L123.50 395.95L119.80 392.25Z" fill="#ffffff" stroke="#000" stroke-width="1.75"/>
<path d="M146.90 339.50L150.60 343.20L146.90 346.90L143.20 343.20Z" fill="#ffffff" stroke="#000" stroke-width="1.75"/>
<path d="M152.50 342.90L156.20 346.60L152.50 350.30L148.80 346.60Z" fill="#ffffff" stroke="#000" stroke-width="1.75"/>
<path d="M149.30 342.10L153.00 345.80L149.30 349.50L145.60 345.80Z" fill="#ffffff" stroke="#000" stroke-width="1.75"/>
<path d="M142.40 345.30L146.10 349.00L142.40 352.70L138.70 349.00Z" fill="#ffffff" stroke="#000" stroke-width="1.75"/>
<path d="M147.20 351.20L150.90 354.90L147.20 358.60L143.50 354.90Z" fill="#ffffff" stroke="#000" stroke-width="1.75"/>
<path d="M147.10 365.90L150.80 369.60L147.10 373.30L143.40 369.60Z" fill="#ffffff" stroke="#000" stroke-width="1.75"/>
<path d="M165.50 353.00L169.20 356.70L165.50 360.40L161.80 356.70Z" fill="#ffffff" stroke="#000" stroke-width="1.75"/>
<path d="M170.60 354.40L174.30 358.10L170.60 361.80L166.90 358.10Z" fill="#ffffff" stroke="#000" stroke-width="1.75"/>
<path d="M168.30 359.00L172.00 362.70L168.30 366.40L164.60 362.70Z" fill="#ffffff" stroke="#000" stroke-width="1.75"/>
<path d="M173.90 359.00L177.60 362.70L173.90 366.40L170.20 362.70Z" fill="#ffffff" stroke="#000" stroke-width="1.75"/>
<path d="M166.00 364.50L169.70 368.20L166.00 371.90L162.30 368.20Z" fill="#ffffff" stroke="#000" stroke-width="1.75"/>
<path d="M171.10 367.30L174.80 371.00L171.10 374.70L167.40 371.00Z" fill="#ffffff" stroke="#000" stroke-width="1.75"/>
<path d="M175.20 366.80L178.90 370.50L175.20 374.20L171.50 370.50Z" fill="#ffffff" stroke="#000" stroke-width="1.75"/>
<path d="M196.00 339.30L199.70 343.00L196.00 346.70L192.30 343.00Z" fill="#ffffff" stroke="#000" stroke-width="1.75"/>
<path d="M193.20 338.50L196.90 342.20L193.20 345.90L189.50 342.20Z" fill="#ffffff" stroke="#000" stroke-width="1.75"/>
<path d="M189.80 342.70L193.50 346.40L189.80 350.10L186.10 346.40Z" fill="#ffffff" stroke="#000" stroke-width="1.75"/>
<path d="M198.60 344.40L202.30 348.10L198.60 351.80L194.90 348.10Z" fill="#ffffff" stroke="#000" stroke-width="1.75"/>
<path d="M194.20 345.60L197.90 349.30L194.20 353.00L190.50 349.30Z" fill="#ffffff" stroke="#000" stroke-width="1.75"/>
<path d="M189.60 353.90L193.30 357.60L189.60 361.30L185.90 357.60Z" fill="#ffffff" stroke="#000" stroke-width="1.75"/>
<path d="M195.00 359.20L198.70 362.90L195.00 366.60L191.30 362.90Z" fill="#ffffff" stroke="#000" stroke-width="1.75"/>
<path d="M194.30 384.40L198.00 388.10L194.30 391.80L190.60 388.10Z" fill="#ffffff" stroke="#000" stroke-width="1.75"/>
<path d="M218.20 339.90L221.90 343.60L218.20 347.30L214.50 343.60Z" fill="#ffffff" stroke="#000" stroke-width="1.75"/>
<path d="M222.80 347.90L226.50 351.60L222.80 355.30L219.10 351.60Z" fill="#ffffff" stroke="#000" stroke-width="1.75"/>
<path d="M212.90 349.20L216.60 352.90L212.90 356.60L209.20 352.90Z" fill="#ffffff" stroke="#000" stroke-width="1.75"/>
<path d="M216.90 346.60L220.60 350.30L216.90 354.00L213.20 350.30Z" fill="#ffffff" stroke="#000" stroke-width="1.75"/>
<path d="M218.20 351.20L221.90 354.90L218.20 358.60L214.50 354.90Z" fill="#ffffff" stroke="#000" stroke-width="1.75"/>
<path d="M218.20 365.80L221.90 369.50L218.20 373.20L214.50 369.50Z" fill="#ffffff" stroke="#000" stroke-width="1.75"/>
<path d="M218.20 384.40L221.90 388.10L218.20 391.80L214.50 388.10Z" fill="#ffffff" stroke="#000" stroke-width="1.75"/>
<path d="M218.20 399.70L221.90 403.40L218.20 407.10L214.50 403.40Z" fill="#ffffff" stroke="#000" stroke-width="1.75"/>
<path d="M242.50 337.80L246.20 341.50L242.50 345.20L238.80 341.50Z" fill="#ffffff" stroke="#000" stroke-width="1.75"/>
<path d="M236.50 342.50L240.20 346.20L236.50 349.90L232.80 346.20Z" fill="#ffffff" stroke="#000" stroke-width="1.75"/>
<path d="M247.10 343.40L250.80 347.10L247.10 350.80L243.40 347.10Z" fill="#ffffff" stroke="#000" stroke-width="1.75"/>
<path d="M244.80 341.10L248.50 344.80L244.80 348.50L241.10 344.80Z" fill="#ffffff" stroke="#000" stroke-width="1.75"/>
<path d="M239.20 339.20L242.90 342.90L239.20 346.60L235.50 342.90Z" fill="#ffffff" stroke="#000" stroke-width="1.75"/>
<path d="M241.50 345.20L245.20 348.90L241.50 352.60L237.80 348.90Z" fill="#ffffff" stroke="#000" stroke-width="1.75"/>
<path d="M260.50 346.20L264.20 349.90L260.50 353.60L256.80 349.90Z" fill="#ffffff" stroke="#000" stroke-width="1.75"/>
<path d="M269.70 342.50L273.40 346.20L269.70 349.90L266.00 346.20Z" fill="#ffffff" stroke="#000" stroke-width="1.75"/>
<path d="M265.50 348.50L269.20 352.20L265.50 355.90L261.80 352.20Z" fill="#ffffff" stroke="#000" stroke-width="1.75"/>
<path d="M265.10 364.60L268.80 368.30L265.10 372.00L261.40 368.30Z" fill="#ffffff" stroke="#000" stroke-width="1.75"/>
<path d="M269.70 362.80L273.40 366.50L269.70 370.20L266.00 366.50Z" fill="#ffffff" stroke="#000" stroke-width="1.75"/>
<line x1="115.25" y1="384.5" x2="131.75" y2="384.5" stroke="#000" stroke-width="1.8"/>
<line x1="162.8" y1="362.5" x2="178.9" y2="362.5" stroke="#000" stroke-width="1.8"/>
<line x1="186.3" y1="346.4" x2="202.5" y2="346.4" stroke="#000" stroke-width="1.8"/>
<line x1="282" y1="377.6" x2="297" y2="377.6" stroke="#000" stroke-width="1.8"/>
<line x1="328.2" y1="392.2" x2="344.7" y2="392.2" stroke="#000" stroke-width="1.8"/>
<line x1="351.7" y1="439.3" x2="368.2" y2="439.3" stroke="#000" stroke-width="1.8"/>
<line x1="375.3" y1="385.9" x2="391.9" y2="385.9" stroke="#000" stroke-width="1.8"/>
<line x1="398.7" y1="420.6" x2="415.4" y2="420.6" stroke="#000" stroke-width="1.8"/>
<line x1="446.6" y1="408.7" x2="462" y2="408.7" stroke="#000" stroke-width="1.8"/>
<line x1="470" y1="363.9" x2="486.2" y2="363.9" stroke="#000" stroke-width="1.8"/>
<line x1="493.6" y1="380" x2="510" y2="380" stroke="#000" stroke-width="1.8"/>
<circle cx="283.80" cy="378.10" r="2.55" fill="#707070" stroke="#000" stroke-width="2.2"/>
<circle cx="287.70" cy="376.70" r="2.55" fill="#707070" stroke="#000" stroke-width="2.2"/>
<circle cx="289.50" cy="375.50" r="2.55" fill="#707070" stroke="#000" stroke-width="2.2"/>
<circle cx="293.60" cy="382.00" r="2.55" fill="#707070" stroke="#000" stroke-width="2.2"/>
<circle cx="288.70" cy="384.50" r="2.55" fill="#707070" stroke="#000" stroke-width="2.2"/>
<circle cx="317.30" cy="407.00" r="2.55" fill="#707070" stroke="#000" stroke-width="2.2"/>
<circle cx="312.10" cy="409.30" r="2.55" fill="#707070" stroke="#000" stroke-width="2.2"/>
<circle cx="314.90" cy="414.10" r="2.55" fill="#707070" stroke="#000" stroke-width="2.2"/>
<circle cx="307.00" cy="417.70" r="2.55" fill="#707070" stroke="#000" stroke-width="2.2"/>
<circle cx="310.50" cy="417.70" r="2.55" fill="#707070" stroke="#000" stroke-width="2.2"/>
<circle cx="317.30" cy="418.10" r="2.55" fill="#707070" stroke="#000" stroke-width="2.2"/>
<circle cx="312.50" cy="420.50" r="2.55" fill="#707070" stroke="#000" stroke-width="2.2"/>
<circle cx="312.50" cy="430.90" r="2.55" fill="#707070" stroke="#000" stroke-width="2.2"/>
<circle cx="331.40" cy="373.80" r="2.55" fill="#707070" stroke="#000" stroke-width="2.2"/>
<circle cx="336.20" cy="379.60" r="2.55" fill="#707070" stroke="#000" stroke-width="2.2"/>
<circle cx="341.00" cy="385.00" r="2.55" fill="#707070" stroke="#000" stroke-width="2.2"/>
<circle cx="336.20" cy="392.40" r="2.55" fill="#707070" stroke="#000" stroke-width="2.2"/>
<circle cx="331.40" cy="406.20" r="2.55" fill="#707070" stroke="#000" stroke-width="2.2"/>
<circle cx="336.50" cy="406.50" r="2.55" fill="#707070" stroke="#000" stroke-width="2.2"/>
<circle cx="336.10" cy="426.60" r="2.55" fill="#707070" stroke="#000" stroke-width="2.2"/>
<circle cx="359.90" cy="398.80" r="2.55" fill="#707070" stroke="#000" stroke-width="2.2"/>
<circle cx="355.60" cy="421.10" r="2.55" fill="#707070" stroke="#000" stroke-width="2.2"/>
<circle cx="359.90" cy="430.00" r="2.55" fill="#707070" stroke="#000" stroke-width="2.2"/>
<circle cx="359.90" cy="439.30" r="2.55" fill="#707070" stroke="#000" stroke-width="2.2"/>
<circle cx="355.60" cy="451.40" r="2.55" fill="#707070" stroke="#000" stroke-width="2.2"/>
<circle cx="359.90" cy="458.70" r="2.55" fill="#707070" stroke="#000" stroke-width="2.2"/>
<circle cx="359.90" cy="468.40" r="2.55" fill="#707070" stroke="#000" stroke-width="2.2"/>
<circle cx="378.60" cy="356.30" r="2.55" fill="#707070" stroke="#000" stroke-width="2.2"/>
<circle cx="383.70" cy="362.90" r="2.55" fill="#707070" stroke="#000" stroke-width="2.2"/>
<circle cx="387.90" cy="382.20" r="2.55" fill="#707070" stroke="#000" stroke-width="2.2"/>
<circle cx="383.30" cy="386.20" r="2.55" fill="#707070" stroke="#000" stroke-width="2.2"/>
<circle cx="378.60" cy="396.10" r="2.55" fill="#707070" stroke="#000" stroke-width="2.2"/>
<circle cx="383.70" cy="403.40" r="2.55" fill="#707070" stroke="#000" stroke-width="2.2"/>
<circle cx="383.50" cy="424.30" r="2.55" fill="#707070" stroke="#000" stroke-width="2.2"/>
<circle cx="411.70" cy="403.70" r="2.55" fill="#707070" stroke="#000" stroke-width="2.2"/>
<circle cx="406.70" cy="405.50" r="2.55" fill="#707070" stroke="#000" stroke-width="2.2"/>
<circle cx="402.40" cy="417.90" r="2.55" fill="#707070" stroke="#000" stroke-width="2.2"/>
<circle cx="407.30" cy="421.00" r="2.55" fill="#707070" stroke="#000" stroke-width="2.2"/>
<circle cx="407.10" cy="432.20" r="2.55" fill="#707070" stroke="#000" stroke-width="2.2"/>
<circle cx="407.00" cy="456.40" r="2.55" fill="#707070" stroke="#000" stroke-width="2.2"/>
<circle cx="407.00" cy="472.00" r="2.55" fill="#707070" stroke="#000" stroke-width="2.2"/>
<circle cx="428.60" cy="349.60" r="2.55" fill="#707070" stroke="#000" stroke-width="2.2"/>
<circle cx="435.30" cy="354.00" r="2.55" fill="#707070" stroke="#000" stroke-width="2.2"/>
<circle cx="426.00" cy="356.70" r="2.55" fill="#707070" stroke="#000" stroke-width="2.2"/>
<circle cx="431.30" cy="357.60" r="2.55" fill="#707070" stroke="#000" stroke-width="2.2"/>
<circle cx="426.00" cy="363.30" r="2.55" fill="#707070" stroke="#000" stroke-width="2.2"/>
<circle cx="435.30" cy="364.70" r="2.55" fill="#707070" stroke="#000" stroke-width="2.2"/>
<circle cx="430.60" cy="368.60" r="2.55" fill="#707070" stroke="#000" stroke-width="2.2"/>
<circle cx="430.60" cy="384.80" r="2.55" fill="#707070" stroke="#000" stroke-width="2.2"/>
<circle cx="430.60" cy="395.90" r="2.55" fill="#707070" stroke="#000" stroke-width="2.2"/>
<circle cx="430.60" cy="445.50" r="2.55" fill="#707070" stroke="#000" stroke-width="2.2"/>
<circle cx="430.60" cy="464.30" r="2.55" fill="#707070" stroke="#000" stroke-width="2.2"/>
<circle cx="454.30" cy="355.90" r="2.55" fill="#707070" stroke="#000" stroke-width="2.2"/>
<circle cx="454.30" cy="366.00" r="2.55" fill="#707070" stroke="#000" stroke-width="2.2"/>
<circle cx="454.30" cy="378.90" r="2.55" fill="#707070" stroke="#000" stroke-width="2.2"/>
<circle cx="459.20" cy="389.10" r="2.55" fill="#707070" stroke="#000" stroke-width="2.2"/>
<circle cx="454.30" cy="391.50" r="2.55" fill="#707070" stroke="#000" stroke-width="2.2"/>
<circle cx="459.20" cy="408.50" r="2.55" fill="#707070" stroke="#000" stroke-width="2.2"/>
<circle cx="449.90" cy="411.80" r="2.55" fill="#707070" stroke="#000" stroke-width="2.2"/>
<circle cx="454.50" cy="413.50" r="2.55" fill="#707070" stroke="#000" stroke-width="2.2"/>
<circle cx="454.50" cy="422.60" r="2.55" fill="#707070" stroke="#000" stroke-width="2.2"/>
<circle cx="454.40" cy="497.40" r="2.55" fill="#707070" stroke="#000" stroke-width="2.2"/>
<circle cx="454.40" cy="509.60" r="2.55" fill="#707070" stroke="#000" stroke-width="2.2"/>
<circle cx="477.70" cy="353.30" r="2.55" fill="#707070" stroke="#000" stroke-width="2.2"/>
<circle cx="483.00" cy="352.20" r="2.55" fill="#707070" stroke="#000" stroke-width="2.2"/>
<circle cx="482.50" cy="357.00" r="2.55" fill="#707070" stroke="#000" stroke-width="2.2"/>
<circle cx="473.40" cy="363.90" r="2.55" fill="#707070" stroke="#000" stroke-width="2.2"/>
<circle cx="478.20" cy="364.40" r="2.55" fill="#707070" stroke="#000" stroke-width="2.2"/>
<circle cx="482.50" cy="381.90" r="2.55" fill="#707070" stroke="#000" stroke-width="2.2"/>
<circle cx="478.20" cy="387.80" r="2.55" fill="#707070" stroke="#000" stroke-width="2.2"/>
<circle cx="505.80" cy="366.50" r="2.55" fill="#707070" stroke="#000" stroke-width="2.2"/>
<circle cx="501.60" cy="369.20" r="2.55" fill="#707070" stroke="#000" stroke-width="2.2"/>
<circle cx="497.30" cy="375.00" r="2.55" fill="#707070" stroke="#000" stroke-width="2.2"/>
<circle cx="501.60" cy="380.10" r="2.55" fill="#707070" stroke="#000" stroke-width="2.2"/>
<circle cx="501.60" cy="393.50" r="2.55" fill="#707070" stroke="#000" stroke-width="2.2"/>
<circle cx="501.60" cy="405.00" r="2.55" fill="#707070" stroke="#000" stroke-width="2.2"/>
<circle cx="501.60" cy="425.00" r="2.55" fill="#707070" stroke="#000" stroke-width="2.2"/>
</svg></body></html>
